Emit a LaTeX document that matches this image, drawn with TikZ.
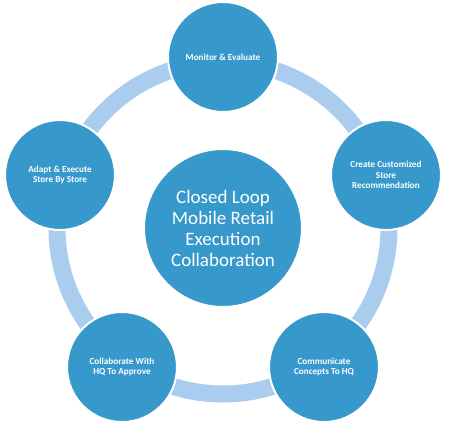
\documentclass[tikz,border=0pt]{standalone}
\usepackage{fontspec}
\setmainfont{Carlito}
\usepackage{xcolor}
\usepackage{tikz}
\definecolor{stepblue}{RGB}{54,152,203}
\definecolor{ringblue}{RGB}{169,204,239}

\begin{document}
\begin{tikzpicture}[x=1pt,y=-1pt,
  phase/.style={circle,fill=stepblue,draw=white,line width=2pt,minimum size=110pt,inner sep=0pt,text=white,align=center,font=\bfseries\fontsize{9.2}{10.4}\selectfont},
  hub/.style={circle,fill=stepblue,draw=white,line width=2pt,minimum size=158pt,inner sep=0pt,text=white,align=center,font=\fontsize{19}{21}\selectfont}]
\useasboundingbox (0,0) rectangle (450,426);
\coordinate (mid) at (223,228);
% the loop behind the phases
\draw[ringblue,line width=17pt] (mid) circle (166pt);
\node[hub] (loop) at (mid) {Closed Loop\\Mobile Retail\\Execution\\Collaboration};
\node[phase] (monitor) at (223,57) {Monitor \& Evaluate};
\node[phase] (create) at (386,175) {Create Customized\\Store\\Recommendation};
\node[phase] (communicate) at (324,367) {Communicate\\Concepts To HQ};
\node[phase] (collab) at (122,367) {Collaborate With\\HQ To Approve};
\node[phase] (adapt) at (60,175) {Adapt \& Execute\\Store By Store};
\end{tikzpicture}
\end{document}
